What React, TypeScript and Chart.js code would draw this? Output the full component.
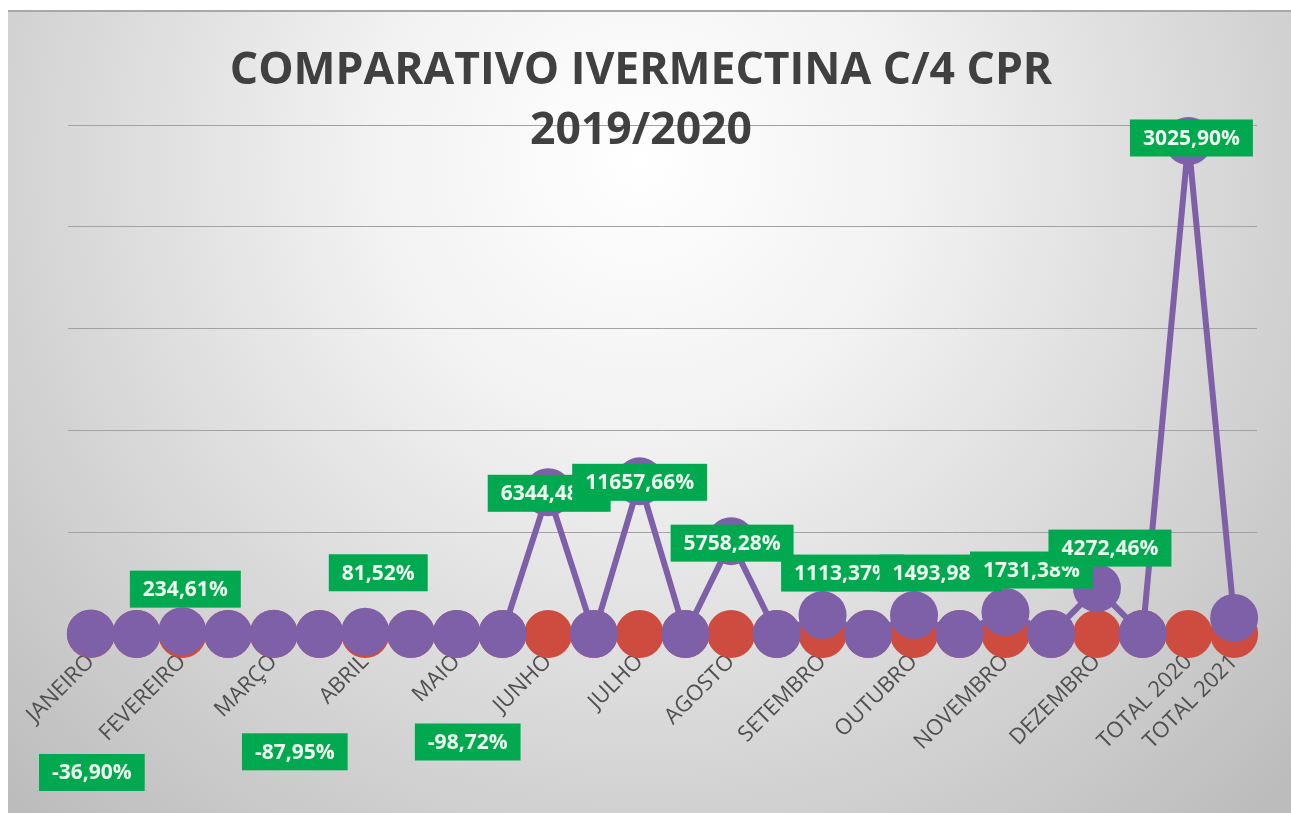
import React, { useEffect, useRef } from 'react';
import { Chart, registerables } from 'chart.js';

Chart.register(...registerables);

// Category rows (each month row followed by a blank row, then the totals)
const categories: string[] = [
  'JANEIRO', '', 'FEVEREIRO', '', 'MARÇO', '', 'ABRIL', '', 'MAIO', '',
  'JUNHO', '', 'JULHO', '', 'AGOSTO', '', 'SETEMBRO', '', 'OUTUBRO', '',
  'NOVEMBRO', '', 'DEZEMBRO', '', 'TOTAL 2020', 'TOTAL 2021',
];

// Purple series (quantities)
const purpleValues: number[] = [
  5, 0, 28, 0, 2, 0, 22, 0, 0, 0,
  1392, 0, 1500, 0, 912, 0, 186, 0, 186, 0,
  216, 0, 451, 0, 4843, 157,
];

// Red series (sits on the baseline everywhere)
const redValues: number[] = [
  0, 0, 0, 0, 0, 0, 0, 0, 0, 0,
  0, 0, 0, 0, 0, 0, 0, 0, 0, 0,
  0, 0, 0, 0, 0, 0,
];

// Percentage data labels attached to the purple series
const percentLabels: string[] = [
  '-36,90%', '', '234,61%', '', '-87,95%', '', '81,52%', '', '-98,72%', '',
  '6344,48%', '', '11657,66%', '', '5758,28%', '', '1113,37%', '', '1493,98%', '',
  '1731,38%', '', '4272,46%', '', '3025,90%', '',
];

const yMin = 0;
const yMax = 5000;
const yStep = 1000;

const titleLines: string[] = ['COMPARATIVO IVERMECTINA C/4 CPR', '2019/2020'];

// Label placement (pixel shifts of each label box from its point) – layout only
const labelShift: [number, number][] = [
  [1, 139], [0, 0], [3, -42], [0, 0], [21, 118], [0, 0], [13, -59], [0, 0], [11, 108], [0, 0],
  [1, 1], [0, 0], [0, 1], [0, 0], [1, 2], [0, 0], [20, -42], [0, 0], [27, -42], [0, 0],
  [26, -42], [0, 0], [13, -40], [0, 0], [3, -3], [0, 0],
];

const PURPLE = '#7e60a8';
const RED = '#cd4b3f';
const GREEN = '#00a94f';

const bgPlugin = {
  id: 'bgPlugin',
  beforeDraw(chart: any) {
    const { ctx, width, height } = chart;
    ctx.save();
    const g = ctx.createRadialGradient(632, 150, 0, 632, 150, 900);
    g.addColorStop(0, '#ffffff');
    g.addColorStop(0.3, '#f2f2f2');
    g.addColorStop(1, '#bcbcbc');
    ctx.fillStyle = g;
    ctx.fillRect(0, 0, width, height);
    ctx.fillStyle = '#a8a8a8';
    ctx.fillRect(0, 0, width, 2);
    ctx.restore();
  },
};

const labelPlugin = {
  id: 'greenLabels',
  afterDatasetsDraw(chart: any) {
    const meta = chart.getDatasetMeta(0);
    const ctx = chart.ctx;
    ctx.save();
    ctx.font = 'bold 21px "Open Sans"';
    ctx.textAlign = 'center';
    ctx.textBaseline = 'middle';
    meta.data.forEach((pt: any, i: number) => {
      const txt = percentLabels[i];
      if (!txt) return;
      const [dx, dy] = labelShift[i];
      const cx = pt.x + dx;
      const cy = pt.y + dy;
      const w = ctx.measureText(txt).width + 26;
      const h = 37;
      ctx.fillStyle = GREEN;
      ctx.fillRect(cx - w / 2, cy - h / 2, w, h);
      ctx.fillStyle = '#effcef';
      ctx.fillText(txt, cx, cy + 1);
    });
    ctx.restore();
  },
};

export default function App() {
  const canvasRef = useRef<HTMLCanvasElement | null>(null);

  useEffect(() => {
    if (!canvasRef.current) return;
    const chart = new Chart(canvasRef.current, {
      type: 'line',
      data: {
        labels: categories,
        datasets: [
          {
            label: '2020',
            data: purpleValues,
            borderColor: PURPLE,
            backgroundColor: PURPLE,
            borderWidth: 6,
            pointRadius: 24,
            pointBorderWidth: 0,
            pointBackgroundColor: PURPLE,
            pointBorderColor: PURPLE,
            tension: 0,
            clip: false as any,
          },
          {
            label: '2019',
            data: redValues,
            borderColor: RED,
            backgroundColor: RED,
            borderWidth: 6,
            pointRadius: 24,
            pointBorderWidth: 0,
            pointBackgroundColor: RED,
            pointBorderColor: RED,
            tension: 0,
            clip: false as any,
          },
        ],
      },
      options: {
        responsive: false,
        animation: false,
        events: [],
        layout: { padding: { left: 17, right: 34, top: 0, bottom: 0 } },
        plugins: {
          legend: { display: false },
          tooltip: { enabled: false },
          title: {
            display: true,
            text: titleLines,
            color: '#404040',
            font: { family: 'Open Sans', weight: 'bold', size: 44.5, lineHeight: '60px' as any },
            padding: { top: 31, bottom: -36 },
          },
        },
        scales: {
          x: {
            type: 'category',
            offset: true,
            grid: { display: false, drawTicks: false },
            border: { display: false },
            ticks: {
              autoSkip: false,
              minRotation: 45,
              maxRotation: 45,
              padding: 15,
              color: '#505050',
              font: { family: 'Open Sans', size: 22 },
            },
            afterFit: (s: any) => {
              s.height = 179;
            },
          },
          y: {
            min: yMin,
            max: yMax,
            ticks: { display: false, stepSize: yStep },
            grid: { color: '#a2a2a2', lineWidth: 1, drawTicks: false },
            border: { display: false },
            afterFit: (s: any) => {
              s.width = 43;
            },
          },
        },
      },
      plugins: [bgPlugin, labelPlugin],
    });
    return () => chart.destroy();
  }, []);

  return (
    <div style={{ position: 'fixed', left: 8, top: 10, width: 1283, height: 803 }}>
      <canvas ref={canvasRef} width={1283} height={803} style={{ width: 1283, height: 803, display: 'block' }} />
    </div>
  );
}
